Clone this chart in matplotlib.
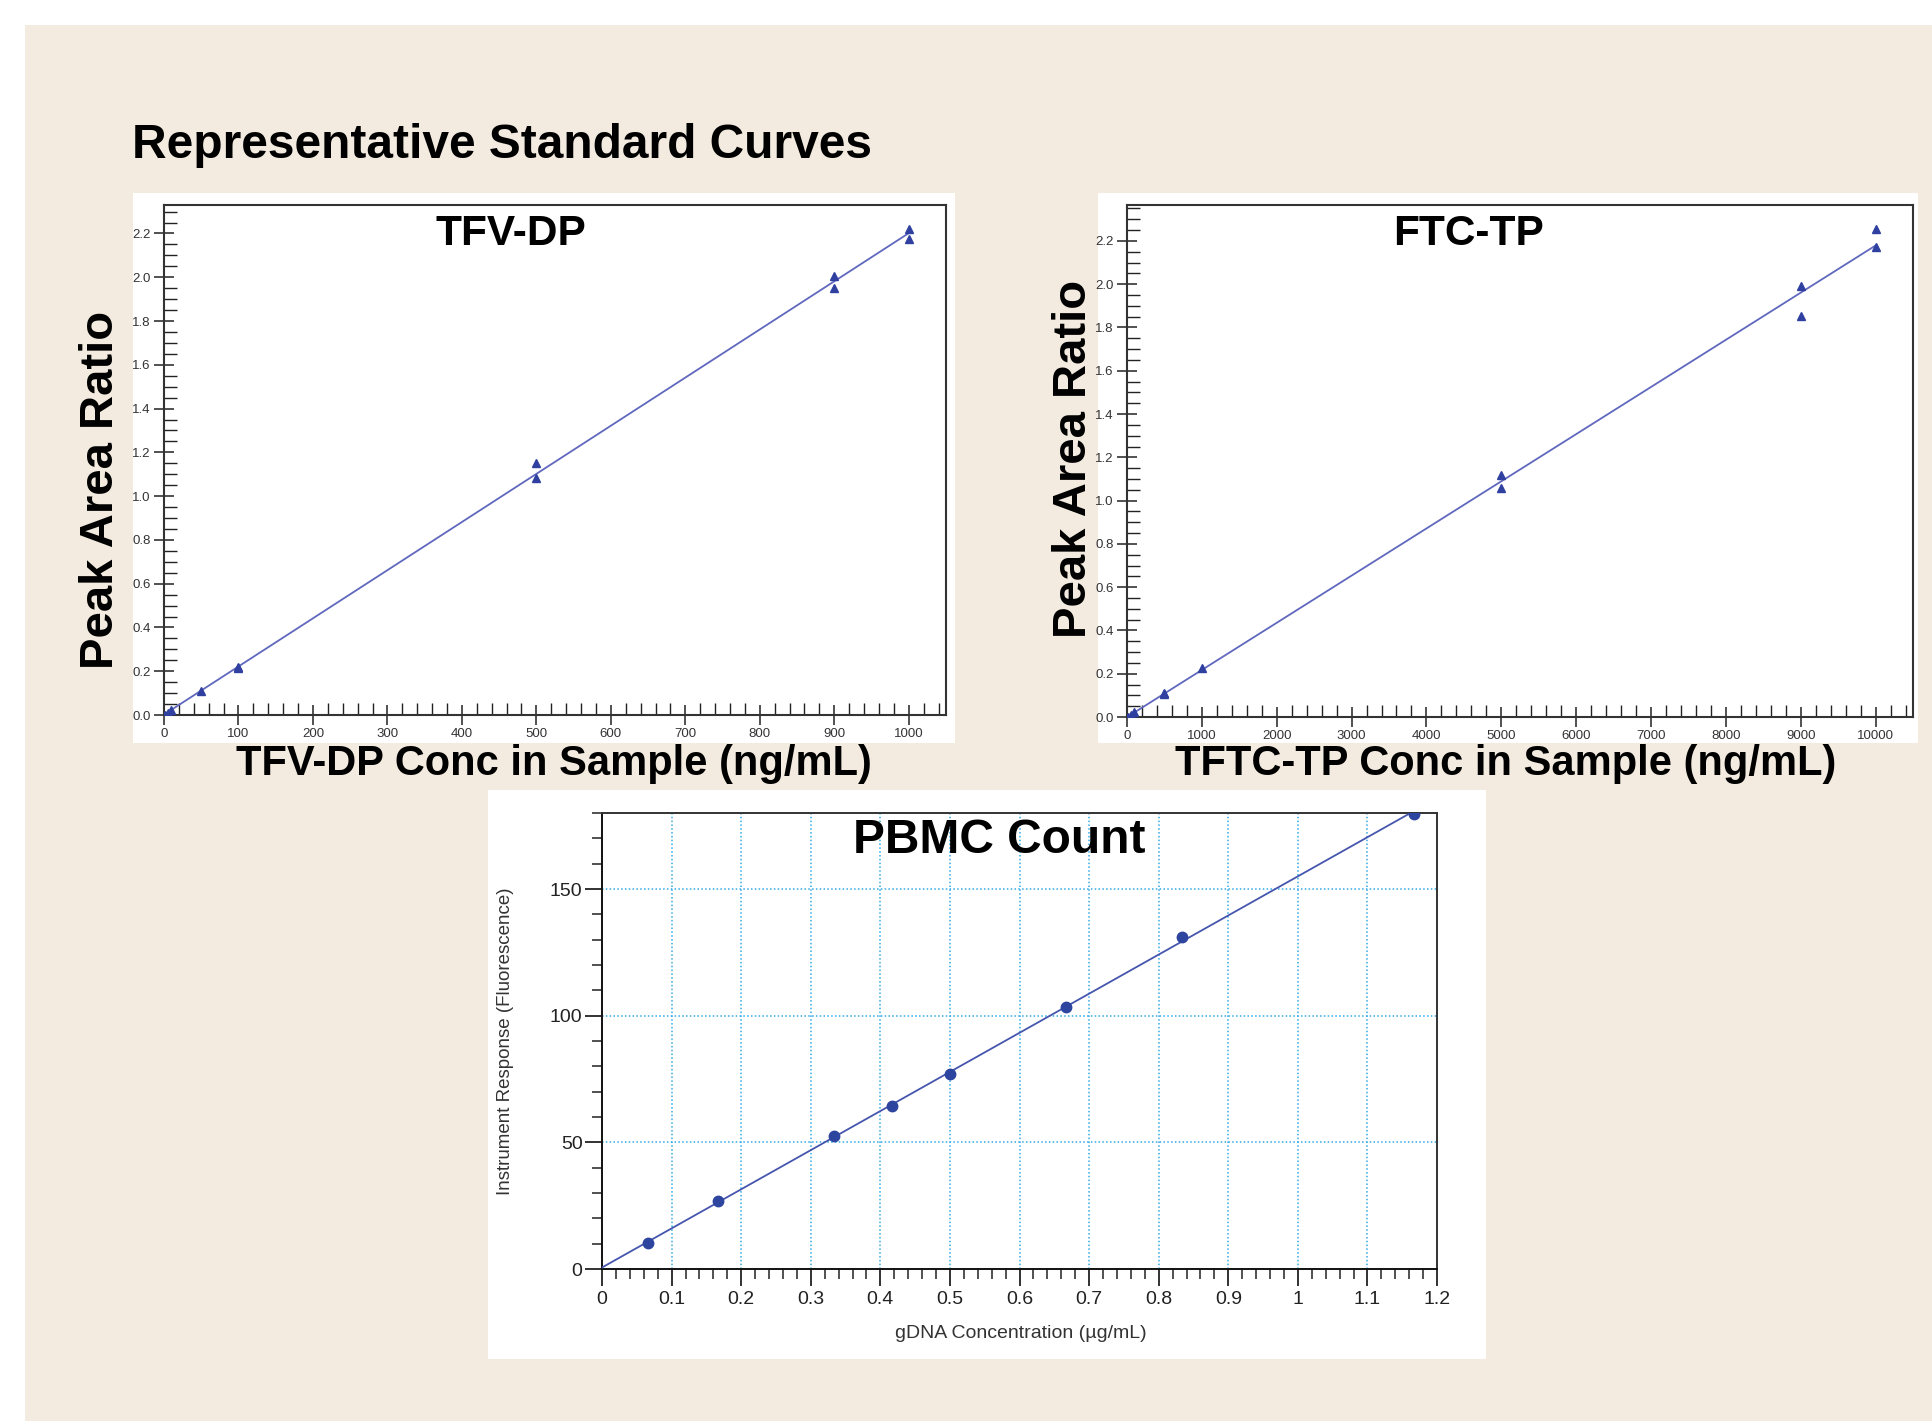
import numpy as np
import matplotlib
matplotlib.use("Agg")
import matplotlib.pyplot as plt
from matplotlib.patches import Rectangle
from matplotlib.ticker import MultipleLocator, FormatStrFormatter

# ---------------- data ----------------
tfv_conc = [1, 5, 10, 50, 100, 100, 500, 500, 900, 900, 1000, 1000]
tfv_ratio = [0.002, 0.011, 0.022, 0.11, 0.22, 0.215, 1.15, 1.085, 2.005, 1.95, 2.22, 2.175]

ftc_conc = [10, 50, 100, 500, 500, 1000, 5000, 5000, 9000, 9000, 10000, 10000]
ftc_ratio = [0.002, 0.011, 0.022, 0.11, 0.105, 0.225, 1.12, 1.06, 1.99, 1.855, 2.255, 2.17]

pbmc_conc = [0.0667, 0.1667, 0.3333, 0.4167, 0.5, 0.6667, 0.8333, 1.1667]
pbmc_resp = [10.3, 27.0, 52.4, 64.4, 77.1, 103.3, 131.2, 179.8]

pbmc_xticklabels = ["0", "0.1", "0.2", "0.3", "0.4", "0.5", "0.6", "0.7", "0.8", "0.9", "1", "1.1", "1.2"]

title_main = "Representative Standard Curves"
tfv_title = "TFV-DP"
ftc_title = "FTC-TP"
pbmc_title = "PBMC Count"
tfv_xlabel = "TFV-DP Conc in Sample (ng/mL)"
ftc_xlabel = "TFTC-TP Conc in Sample (ng/mL)"
ratio_ylabel = "Peak Area Ratio"
pbmc_xlabel = "gDNA Concentration (µg/mL)"
pbmc_ylabel = "Instrument Response (Fluorescence)"

# ---------------- setup ----------------
W, H = 1932, 1421
fig = plt.figure(figsize=(W / 100, H / 100), dpi=100, facecolor="white")

NORMAL = ["Liberation Sans", "DejaVu Sans"]

def fx(x):
    return x / W

def fy(y):
    return 1 - y / H

def box(x0, y0, x1, y1, color):
    fig.patches.append(Rectangle((fx(x0), fy(y1)), fx(x1) - fx(x0), fy(y0) - fy(y1),
                                 transform=fig.transFigure, facecolor=color,
                                 edgecolor="none", zorder=-10))

def axes_px(x0, y0, x1, y1):
    return fig.add_axes([fx(x0), fy(y1), fx(x1) - fx(x0), fy(y0) - fy(y1)])

# beige background and white panels
box(25, 25, W + 5, H + 5, "#F3EBDF")
box(133, 193, 955, 743, "white")
box(1098, 193, 1918, 743, "white")
box(488, 790, 1486, 1359, "white")

LINE_C = "#6068BE"
MARK_C = "#3040A0"

def std_curve(ax, xs, ys, xmax, ymax, xmaj, xmin):
    xs = np.asarray(xs, float)
    ys = np.asarray(ys, float)
    k, b = np.polyfit(xs, ys, 1)
    xx = np.array([0.0, xs.max()])
    ax.plot(xx, k * xx + b, color=LINE_C, lw=1.3, zorder=2)
    ax.plot(xs, ys, linestyle="none", marker="^", ms=5.5, color=MARK_C, zorder=3)
    ax.set_xlim(0, xmax)
    ax.set_ylim(0, ymax)
    ax.xaxis.set_major_locator(MultipleLocator(xmaj))
    ax.xaxis.set_minor_locator(MultipleLocator(xmin))
    ax.yaxis.set_major_locator(MultipleLocator(0.2))
    ax.yaxis.set_minor_locator(MultipleLocator(0.05))
    ax.yaxis.set_major_formatter(FormatStrFormatter("%.1f"))
    ax.tick_params(which="major", direction="inout", length=15, width=1.1,
                   color="#222222", labelcolor="#333333", labelsize=9.5, pad=2)
    ax.tick_params(which="minor", direction="in", length=9, width=1.0, color="#222222")
    for lab in ax.get_xticklabels() + ax.get_yticklabels():
        lab.set_family(NORMAL)
    for s in ax.spines.values():
        s.set_linewidth(1.5)
        s.set_color("#333333")

# TFV-DP
ax1 = axes_px(164, 205, 946, 715)
std_curve(ax1, tfv_conc, tfv_ratio, 1050, 2.33, 100, 20)

# FTC-TP
ax2 = axes_px(1127, 205, 1913, 717)
std_curve(ax2, ftc_conc, ftc_ratio, 10500, 2.366, 1000, 200)

# PBMC
ax3 = axes_px(602, 813, 1437, 1269)
pc = np.asarray(pbmc_conc)
pr = np.asarray(pbmc_resp)
k, b = np.polyfit(pc, pr, 1)
xx = np.array([0.0, pc.max()])
ax3.plot(xx, k * xx + b, color="#4656AE", lw=1.3, zorder=3)
ax3.plot(pc, pr, linestyle="none", marker="o", ms=7.5, color="#2E45A0", zorder=4)
ax3.set_xlim(0, 1.2)
ax3.set_ylim(0, 180)
ax3.xaxis.set_minor_locator(MultipleLocator(0.02))
ax3.yaxis.set_major_locator(MultipleLocator(50))
ax3.yaxis.set_minor_locator(MultipleLocator(10))
ax3.set_xticks(np.round(np.arange(0, 1.21, 0.1), 1))
ax3.set_xticklabels(pbmc_xticklabels)
ax3.grid(True, which="major", color="#33AAE6", linestyle=(0, (1, 1.5)), lw=1.1, zorder=1)
ax3.tick_params(which="major", direction="out", length=12, width=1.3, color="#222222",
                labelcolor="#222222", labelsize=14)
ax3.tick_params(axis="x", which="major", pad=4)
ax3.tick_params(axis="y", which="major", pad=2)
ax3.tick_params(which="minor", direction="out", length=7, width=1.1, color="#222222")
for lab in ax3.get_xticklabels() + ax3.get_yticklabels():
    lab.set_family(NORMAL)
for s in ax3.spines.values():
    s.set_linewidth(1.4)
    s.set_color("#333333")
ax3.spines["left"].set_color("#111111")
ax3.spines["bottom"].set_color("#111111")

# ---------------- text ----------------
fig.text(fx(132), fy(158), title_main, family=NORMAL, weight="bold", fontsize=34.5,
         ha="left", va="baseline", color="black")
fig.text(fx(511), fy(234), tfv_title, family=NORMAL, weight="bold", fontsize=30.5,
         ha="center", va="center")
fig.text(fx(1469), fy(234), ftc_title, family=NORMAL, weight="bold", fontsize=30.5,
         ha="center", va="center")
fig.text(fx(554), fy(764), tfv_xlabel, family=NORMAL, weight="bold", fontsize=30,
         ha="center", va="center")
fig.text(fx(1506), fy(764), ftc_xlabel, family=NORMAL, weight="bold", fontsize=30,
         ha="center", va="center")
fig.text(fx(101), fy(490), ratio_ylabel, family=NORMAL, weight="bold", fontsize=34,
         ha="center", va="center", rotation=90)
fig.text(fx(1074), fy(459), ratio_ylabel, family=NORMAL, weight="bold", fontsize=34,
         ha="center", va="center", rotation=90)
fig.text(fx(999), fy(840), pbmc_title, family=NORMAL, weight="bold", fontsize=34.5,
         ha="center", va="center")
fig.text(fx(505), fy(1041), pbmc_ylabel, family=NORMAL, fontsize=13.5, color="#333333",
         ha="center", va="center", rotation=90)
fig.text(fx(1021), fy(1333), pbmc_xlabel, family=NORMAL, fontsize=14, color="#333333",
         ha="center", va="center")

fig.savefig("out.png", dpi=100, facecolor="white")
